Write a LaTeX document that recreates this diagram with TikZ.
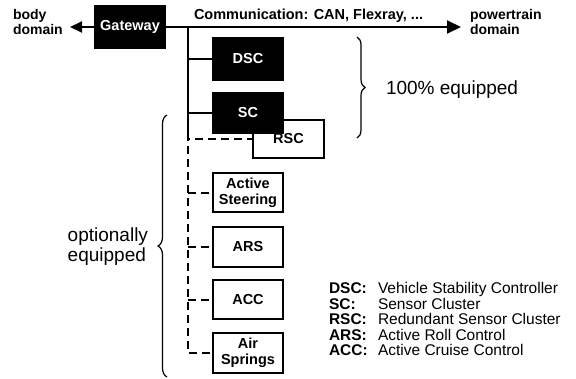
\documentclass[tikz,border=0pt]{standalone}
\usepackage{fontspec}
\setmainfont{Liberation Sans}
\usetikzlibrary{arrows.meta,decorations.pathreplacing}

\begin{document}
\begin{tikzpicture}[x=1pt, y=-1pt, line width=2pt,
  ecu/.style={draw, minimum width=70pt, minimum height=40pt, inner sep=2pt, align=center,
    font=\fontsize{14.5}{16}\selectfont\bfseries},
  master/.style={ecu, fill=black, text=white},
  option/.style={ecu, fill=white},
  bus/.style={-{Triangle[length=14pt,width=13pt]}},
  optline/.style={dash pattern=on 8pt off 5pt},
  domtext/.style={inner sep=0pt, align=left, font=\fontsize{14}{15.5}\selectfont\bfseries},
  bigtext/.style={inner sep=0pt, align=left, font=\fontsize{19}{20}\selectfont},
  curly/.style={decorate, line width=1.2pt}]
\useasboundingbox (0,0) rectangle (576,378);

% ECUs
\node[master, minimum height=42pt] (gw) at (130,27) {Gateway};
\node[master, minimum height=42pt] (dsc) at (248,59) {DSC};
\node[option, minimum width=71pt, minimum height=38pt] (rsc) at (288.5,139) {RSC};
\node[master] (sc) at (248,113) {SC};
\node[option, minimum height=39pt] (steer) at (248,192.5) {Active\\Steering};
\node[option] (ars) at (248,247) {ARS};
\node[option, minimum height=39pt] (acc) at (248,299.5) {ACC};
\node[option] (air) at (248,353) {Air\\Springs};

% bus
\coordinate (pt) at (461,27);
\coordinate (bd) at (70,27);
\coordinate (top) at (188,27);
\coordinate (split) at (188,133);
\draw[bus] (gw.east) -- (pt);
\draw[{Triangle[length=12pt,width=11pt]}-] (bd) -- (gw.west);
\draw (top) -- (split);
\draw (top |- dsc) -- (dsc.west);
\draw (top |- sc) -- (sc.west);
\draw[optline] (split) |- (rsc.west);
\draw[optline] (split) |- (air.west);
\draw[optline] (split |- steer) -- (steer.west);
\draw[optline] (split |- ars) -- (ars.west);
\draw[optline] (split |- acc) -- (acc.west);

% labels
\node[domtext, anchor=west] (body) at (12,22) {body\\domain};
\node[domtext, anchor=west] (pwr) at (469,22) {powertrain\\domain};
\node[domtext, anchor=base west, font=\fontsize{14.5}{15.5}\selectfont\bfseries] (comm) at (193,19.5) {Communication: CAN, Flexray, ...};

% braces
\draw[curly, decoration={brace, amplitude=8pt}] (357,37) -- (357,138);
\draw[curly, decoration={brace, amplitude=9pt}] (167,377) -- (167,115);
\node[bigtext, anchor=west] (full) at (385,90) {100\% equipped};
\node[bigtext, anchor=east] (opt) at (149,247) {optionally\\equipped};

% legend
\foreach \k/\d [count=\i] in {DSC/Vehicle Stability Controller, SC/Sensor Cluster,
    RSC/Redundant Sensor Cluster, ARS/Active Roll Control, ACC/Active Cruise Control} {
  \node[domtext, anchor=base west, font=\fontsize{15.5}{15.5}\selectfont\bfseries] (key\i) at (328,{293.5+15.5*(\i-1)}) {\k:};
  \node[inner sep=0pt, anchor=base west, font=\fontsize{15.5}{15.5}\selectfont] (desc\i) at (377,{293.5+15.5*(\i-1)}) {\d};
}
\end{tikzpicture}
\end{document}
